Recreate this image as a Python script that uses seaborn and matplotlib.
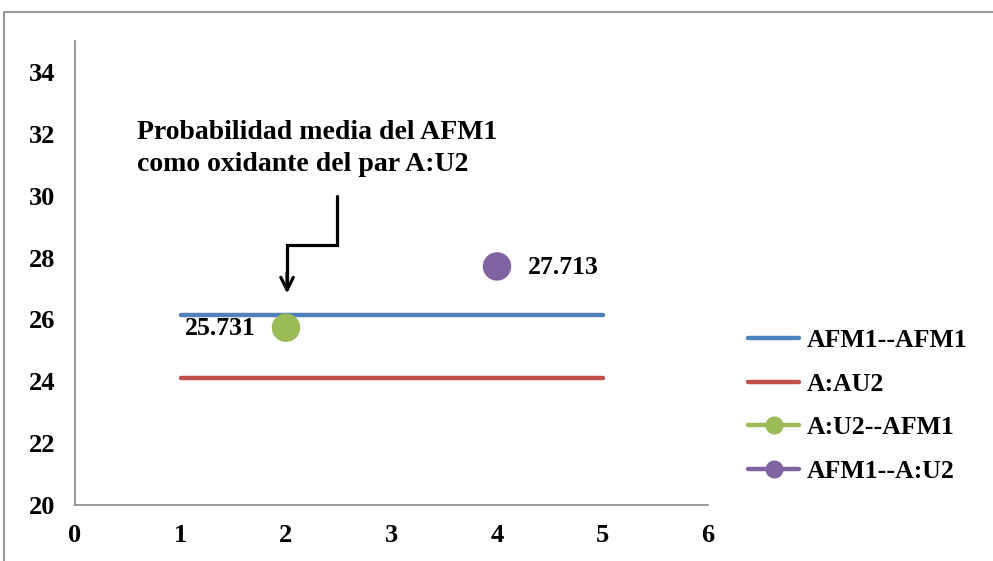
import matplotlib
matplotlib.use("Agg")
import matplotlib.pyplot as plt
from matplotlib.lines import Line2D
from matplotlib.patches import Rectangle
import seaborn as sns
import pandas as pd

# Series values
x_span = [1, 5]
afm1_afm1 = [26.14, 26.14]
a_au2 = [24.1, 24.1]
au2_afm1_x = [2]
au2_afm1_y = [25.731]
afm1_au2_x = [4]
afm1_au2_y = [27.713]

series_names = ["AFM1--AFM1", "A:AU2", "A:U2--AFM1", "AFM1--A:U2"]
colors = ["#4F81BD", "#C0504D", "#9BBB59", "#8064A2"]
x_ticks = [0, 1, 2, 3, 4, 5, 6]
y_ticks = [20, 22, 24, 26, 28, 30, 32, 34]
note = "Probabilidad media del AFM1\ncomo oxidante del par A:U2"

sns.set_style("white")
plt.rcParams["font.family"] = ["Liberation Serif", "DejaVu Serif"]
plt.rcParams["font.weight"] = "bold"
plt.rcParams["text.color"] = "black"
plt.rcParams["xtick.labelcolor"] = "black"
plt.rcParams["ytick.labelcolor"] = "black"

fig = plt.figure(figsize=(9.93, 5.61), dpi=100)
ax = fig.add_axes([75 / 993, 1 - 505 / 561, (708 - 75) / 993, (505 - 41) / 561])

lines_df = pd.DataFrame({"x": x_span * 2,
                         "y": afm1_afm1 + a_au2,
                         "s": [series_names[0]] * 2 + [series_names[1]] * 2})
sns.lineplot(data=lines_df, x="x", y="y", hue="s", palette=colors[:2],
             linewidth=3.2, legend=False, ax=ax, solid_capstyle="round")

pts_df = pd.DataFrame({"x": au2_afm1_x + afm1_au2_x,
                       "y": au2_afm1_y + afm1_au2_y,
                       "s": series_names[2:]})
sns.scatterplot(data=pts_df, x="x", y="y", hue="s", palette=colors[2:],
                s=420, linewidth=0, legend=False, ax=ax, zorder=3)

# Value labels
ax.text(au2_afm1_x[0] - 0.29, au2_afm1_y[0] - 0.03, f"{au2_afm1_y[0]:.3f}",
        ha="right", va="center", fontsize=18.5, fontweight="bold")
ax.text(afm1_au2_x[0] + 0.29, afm1_au2_y[0] - 0.05, f"{afm1_au2_y[0]:.3f}",
        ha="left", va="center", fontsize=18.5, fontweight="bold")

# Note with stepped arrow
ax.text(0.59, 31.52, note, ha="left", va="center", fontsize=20,
        fontweight="bold", linespacing=1.35)
ax.plot([2.48, 2.48, 2.01, 2.01], [30.0, 28.4, 28.4, 27.1],
        color="black", linewidth=2.3, solid_joinstyle="miter")
ax.annotate("", xy=(2.01, 26.75), xytext=(2.01, 27.6),
            arrowprops=dict(arrowstyle="->,head_length=0.9,head_width=0.45",
                            color="black", lw=2.3))

ax.set_xlim(0, 6)
ax.set_ylim(20, 35)
ax.set_xticks(x_ticks)
ax.set_yticks(y_ticks)
ax.set_xlabel("")
ax.set_ylabel("")
for sp in ["top", "right"]:
    ax.spines[sp].set_visible(False)
for sp in ["left", "bottom"]:
    ax.spines[sp].set_color("#888888")
    ax.spines[sp].set_linewidth(1.2)
ax.tick_params(axis="both", direction="out", length=5, width=1,
               color="#888888", labelsize=19)
ax.tick_params(axis="x", pad=9)
ax.tick_params(axis="y", pad=9)
for lbl in ax.get_xticklabels() + ax.get_yticklabels():
    lbl.set_fontweight("bold")

handles = [
    Line2D([], [], color=colors[0], lw=3.2, solid_capstyle="round"),
    Line2D([], [], color=colors[1], lw=3.2, solid_capstyle="round"),
    Line2D([], [], color=colors[2], lw=3.2, marker="o", markersize=12),
    Line2D([], [], color=colors[3], lw=3.2, marker="o", markersize=12),
]
fig.legend(handles, series_names, loc="center left",
           bbox_to_anchor=(748 / 993, 1 - 406 / 561), frameon=False,
           prop={"size": 18.5, "weight": "bold"}, handlelength=2.0,
           handletextpad=0.3, labelspacing=0.8, borderpad=0,
           borderaxespad=0)

# Outer frame
fig.patches.append(Rectangle((4 / 993, -0.5), 2, 0.5 + (1 - 12 / 561),
                             transform=fig.transFigure, fill=False,
                             edgecolor="#999999", linewidth=1.5))

fig.savefig("out.png", dpi=100)
